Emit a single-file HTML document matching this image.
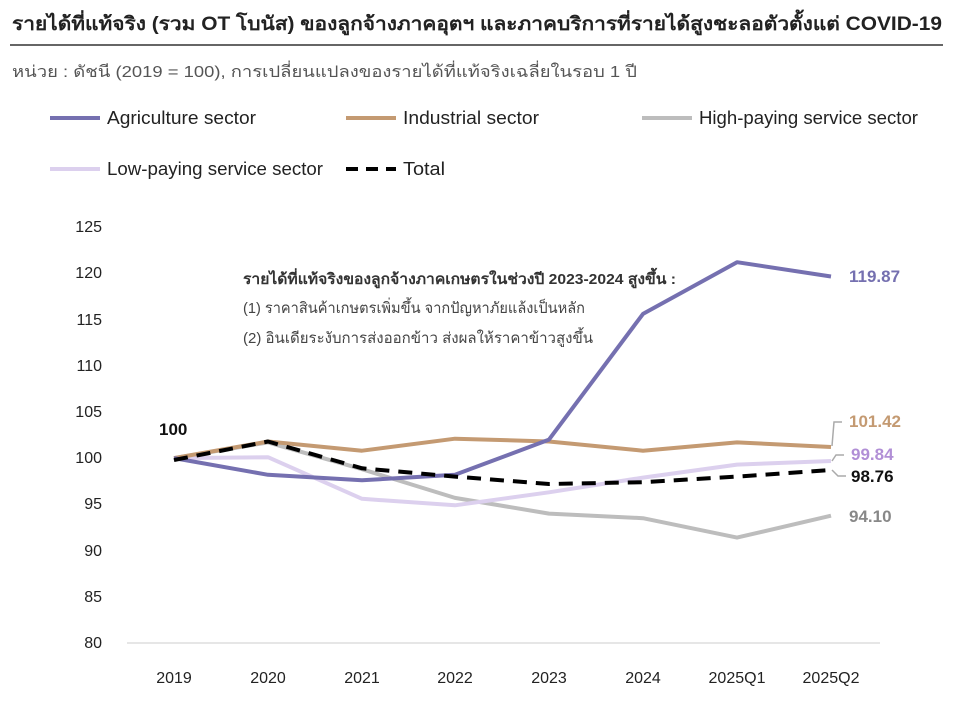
<!DOCTYPE html>
<html><head><meta charset="utf-8"><style>
body{margin:0;background:#fff;}
svg text{font-family:"Liberation Sans","DejaVu Sans",sans-serif;}
</style></head><body>
<svg width="957" height="704" viewBox="0 0 957 704" xmlns="http://www.w3.org/2000/svg">
<text x="12" y="30" font-size="19" font-weight="bold" fill="#222" textLength="930" lengthAdjust="spacingAndGlyphs">รายได้ที่แท้จริง (รวม OT โบนัส) ของลูกจ้างภาคอุตฯ และภาคบริการที่รายได้สูงชะลอตัวตั้งแต่ COVID-19</text>
<line x1="10" y1="45" x2="943" y2="45" stroke="#333" stroke-width="1.5"/>
<text x="12" y="77" font-size="16" fill="#555" textLength="625" lengthAdjust="spacingAndGlyphs">หน่วย : ดัชนี (2019 = 100), การเปลี่ยนแปลงของรายได้ที่แท้จริงเฉลี่ยในรอบ 1 ปี</text>
<g font-size="18" fill="#222">
<line x1="50" y1="118" x2="100" y2="118" stroke="#7570b0" stroke-width="4"/><text x="107" y="124" textLength="149" lengthAdjust="spacingAndGlyphs">Agriculture sector</text>
<line x1="346" y1="118" x2="396" y2="118" stroke="#c49a72" stroke-width="4"/><text x="403" y="124" textLength="136" lengthAdjust="spacingAndGlyphs">Industrial sector</text>
<line x1="642" y1="118" x2="692" y2="118" stroke="#bdbdbd" stroke-width="4"/><text x="699" y="124" textLength="219" lengthAdjust="spacingAndGlyphs">High-paying service sector</text>
<line x1="50" y1="169" x2="100" y2="169" stroke="#dcd0ee" stroke-width="4"/><text x="107" y="175" textLength="216" lengthAdjust="spacingAndGlyphs">Low-paying service sector</text>
<line x1="346" y1="169" x2="396" y2="169" stroke="#000" stroke-width="4" stroke-dasharray="12,8"/><text x="403" y="175" textLength="42" lengthAdjust="spacingAndGlyphs">Total</text>
</g>
<g font-size="16" fill="#222" text-anchor="end">
<text x="102" y="648">80</text><text x="102" y="602">85</text><text x="102" y="556">90</text><text x="102" y="509">95</text><text x="102" y="463">100</text><text x="102" y="417">105</text><text x="102" y="371">110</text><text x="102" y="325">115</text><text x="102" y="278">120</text><text x="102" y="232">125</text>
</g>
<line x1="127" y1="643" x2="880" y2="643" stroke="#ccc" stroke-width="1"/>
<g font-size="16" fill="#222" text-anchor="middle">
<text x="174" y="683">2019</text><text x="268" y="683">2020</text><text x="362" y="683">2021</text><text x="455" y="683">2022</text><text x="549" y="683">2023</text><text x="643" y="683">2024</text><text x="737" y="683">2025Q1</text><text x="831" y="683">2025Q2</text>
</g>
<g fill="none" stroke-width="4" stroke-linejoin="round">
<polyline stroke="#bdbdbd" points="174,458.1 268,442.4 362,469.2 455,497.9 549,513.6 643,518.2 737,537.6 831,515.7"/>
<polyline stroke="#dcd0ee" points="174,458.1 268,457.2 362,498.8 455,505.3 549,492.3 643,477.6 737,464.6 831,461"/>
<polyline stroke="#c49a72" points="174,458.1 268,441.5 362,450.7 455,438.7 549,441.5 643,450.7 737,442.4 831,447"/>
<polyline stroke="#7570b0" points="174,458.1 268,474.8 362,480.3 455,474.8 549,439.6 643,313.9 737,262.2 831,276.5"/>
<polyline stroke="#000" stroke-dasharray="14,9" points="174,460 268,441.5 362,468.3 455,476.6 549,484 643,482.2 737,476.6 831,470"/>
</g>
<g fill="none" stroke="#aaa" stroke-width="1.5">
<polyline points="832,446 834,422 842,422"/>
<polyline points="832,461 836,455 844,455"/>
<polyline points="832,470 838,476 846,476"/>
</g>
<g font-size="17" font-weight="bold">
<text x="849" y="282" fill="#7570b0">119.87</text>
<text x="849" y="427" fill="#c49a72">101.42</text>
<text x="851" y="460" fill="#b18fd6">99.84</text>
<text x="851" y="482" fill="#111">98.76</text>
<text x="849" y="522" fill="#888">94.10</text>
<text x="159" y="435" fill="#111">100</text>
</g>
<text x="243" y="284" font-size="15" font-weight="bold" fill="#333" textLength="433" lengthAdjust="spacingAndGlyphs">รายได้ที่แท้จริงของลูกจ้างภาคเกษตรในช่วงปี 2023-2024 สูงขึ้น :</text>
<text x="243" y="313" font-size="15" fill="#444" textLength="342" lengthAdjust="spacingAndGlyphs">(1) ราคาสินค้าเกษตรเพิ่มขึ้น จากปัญหาภัยแล้งเป็นหลัก</text>
<text x="243" y="343" font-size="15" fill="#444" textLength="350" lengthAdjust="spacingAndGlyphs">(2) อินเดียระงับการส่งออกข้าว ส่งผลให้ราคาข้าวสูงขึ้น</text>
</svg>
</body></html>
